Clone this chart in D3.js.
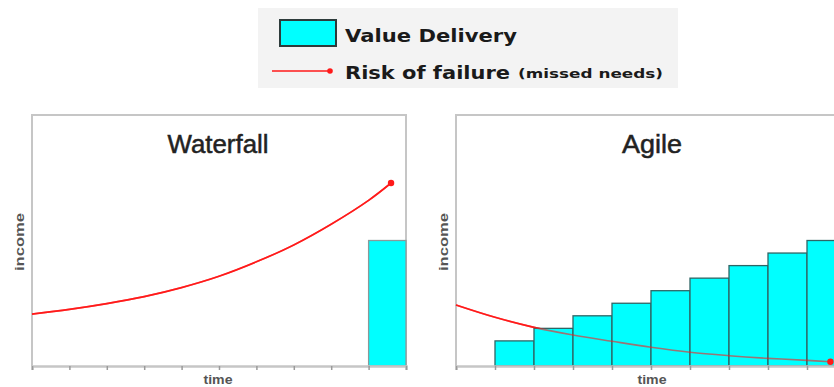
<!DOCTYPE html>
<html>
<head>
<meta charset="utf-8">
<script src="https://cdn.jsdelivr.net/npm/d3@7"></script>
<style>
  html, body { margin: 0; padding: 0; background: #fff; overflow: hidden; }
  svg { display: block; }
</style>
</head>
<body>
<svg id="chart" width="834" height="387"></svg>
<script>
// ---- data ----------------------------------------------------------------
const panelTitles = ["Waterfall", "Agile"];
const tickValues = [0, 1, 2, 3, 4, 5, 6, 7, 8, 9, 10];

// risk of failure curve, sampled along the time axis
const riskTime      = [0, 1, 2, 3, 4, 5, 6, 7, 8, 9, 9.6];
const waterfallRisk = [4.14, 4.51, 4.97, 5.53, 6.25, 7.15, 8.3, 9.65, 11.3, 13.2, 14.58];
const agileRisk     = [4.86, 3.88, 3.08, 2.47, 1.97, 1.49, 1.09, 0.82, 0.61, 0.45, 0.34];

// value delivered per iteration (bar start on the time axis, height)
const waterfallStart = [9];
const waterfallValue = [10];
const agileStart = [1, 2, 3, 4, 5, 6, 7, 8, 9];
const agileValue = [2, 3, 4, 5, 6, 7, 8, 9, 10];

const legendLabels = ["Value Delivery", "Risk of failure", "(missed needs)"];

// ---- drawing -------------------------------------------------------------
const svg = d3.select("#chart");
const CYAN = "#00ffff", RED = "#ff1a1a", FRAME = "#c6c6c6";

// legend
const lg = svg.append("g");
lg.append("rect").attr("x", 258).attr("y", 8).attr("width", 420).attr("height", 80)
  .attr("fill", "#f3f3f3");
lg.append("rect").attr("x", 280).attr("y", 20).attr("width", 56).attr("height", 26)
  .attr("fill", CYAN).attr("stroke", "#2e3b3b").attr("stroke-width", 2);
lg.append("text").attr("x", 345).attr("y", 42)
  .attr("font-family", "DejaVu Sans, Verdana, sans-serif").attr("font-weight", "bold")
  .attr("font-size", 18).attr("fill", "#1a1a1a")
  .attr("textLength", 172).attr("lengthAdjust", "spacingAndGlyphs")
  .text(legendLabels[0]);
lg.append("line").attr("x1", 272).attr("x2", 330).attr("y1", 71).attr("y2", 71)
  .attr("stroke", RED).attr("stroke-width", 1.5);
lg.append("circle").attr("cx", 330).attr("cy", 71).attr("r", 2.8).attr("fill", RED);
lg.append("text").attr("x", 345).attr("y", 79)
  .attr("font-family", "DejaVu Sans, Verdana, sans-serif").attr("font-weight", "bold")
  .attr("font-size", 18).attr("fill", "#1a1a1a")
  .attr("textLength", 165).attr("lengthAdjust", "spacingAndGlyphs")
  .text(legendLabels[1]);
lg.append("text").attr("x", 518).attr("y", 78)
  .attr("font-family", "DejaVu Sans, Verdana, sans-serif").attr("font-weight", "bold")
  .attr("font-size", 13).attr("fill", "#1a1a1a")
  .attr("textLength", 145).attr("lengthAdjust", "spacingAndGlyphs")
  .text(legendLabels[2]);

const panels = [
  { title: panelTitles[0], x0: 32, x1: 406, risk: waterfallRisk,
    starts: waterfallStart, values: waterfallValue, titleLen: 101, labelX: 218,
    barStroke: "#8a9a9a" },
  { title: panelTitles[1], x0: 456, x1: 846, risk: agileRisk,
    starts: agileStart, values: agileValue, titleLen: 60, labelX: 652,
    barStroke: "#2f6666" }
];

const plotTop = 115, plotBottom = 366;

panels.forEach(p => {
  const x = d3.scaleLinear().domain([0, 10]).range([p.x0, p.x1]);
  const y = d3.scaleLinear().domain([0, 20]).range([plotBottom, plotTop]);
  const g = svg.append("g");
  const riskLine = d3.line().curve(d3.curveCatmullRom.alpha(0.5));
  const pts = riskTime.map((t, i) => [x(t), y(p.risk[i])]);

  // frame
  g.append("path")
    .attr("d", `M${p.x0},${plotBottom}V${plotTop}H${p.x1}V${plotBottom}`)
    .attr("fill", "none").attr("stroke", FRAME).attr("stroke-width", 2);

  // risk curve (full strength where it runs over the white background)
  g.append("path")
    .attr("d", riskLine(pts))
    .attr("fill", "none").attr("stroke", RED).attr("stroke-width", 1.7);

  // bars
  g.selectAll("rect.bar").data(p.starts).join("rect")
    .attr("class", "bar")
    .attr("x", (d) => x(d))
    .attr("width", (d) => x(d + 1) - x(d))
    .attr("y", (d, i) => y(p.values[i]))
    .attr("height", (d, i) => plotBottom - y(p.values[i]))
    .attr("fill", CYAN).attr("stroke", p.barStroke).attr("stroke-width", 1.3);

  // time axis
  const axis = g.append("g").attr("transform", `translate(0,${plotBottom})`)
    .call(d3.axisBottom(x).tickValues(tickValues).tickSize(4).tickFormat(""));
  axis.select(".domain").attr("stroke", FRAME).attr("stroke-width", 2.5);
  axis.selectAll(".tick line").attr("stroke", "#9a9a9a").attr("stroke-width", 1.5);

  // the curve shows through the bars as a muted stroke
  g.append("path")
    .attr("d", riskLine(pts))
    .attr("fill", "none").attr("stroke", RED).attr("stroke-opacity", 0.6)
    .attr("stroke-width", 1.6);
  const last = pts[pts.length - 1];
  g.append("circle").attr("cx", last[0]).attr("cy", last[1]).attr("r", 3.2).attr("fill", RED);

  // title
  g.append("text")
    .attr("x", p.labelX).attr("y", 153).attr("text-anchor", "middle")
    .attr("font-family", "Liberation Sans, Arial, sans-serif")
    .attr("font-size", 25).attr("fill", "#222")
    .attr("stroke", "#222").attr("stroke-width", 0.5)
    .attr("textLength", p.titleLen).attr("lengthAdjust", "spacingAndGlyphs")
    .text(p.title);

  // axis titles
  g.append("text").attr("x", p.labelX).attr("y", 384).attr("text-anchor", "middle")
    .attr("font-family", "Liberation Sans, Arial, sans-serif").attr("font-weight", "bold")
    .attr("font-size", 13).attr("fill", "#555")
    .attr("textLength", 29).attr("lengthAdjust", "spacingAndGlyphs")
    .text("time");
  g.append("text")
    .attr("transform", `translate(${p.x0 - 8},242) rotate(-90)`)
    .attr("text-anchor", "middle")
    .attr("font-family", "Liberation Sans, Arial, sans-serif").attr("font-weight", "bold")
    .attr("font-size", 12).attr("fill", "#555")
    .attr("textLength", 58).attr("lengthAdjust", "spacingAndGlyphs")
    .text("income");
});
</script>
</body>
</html>
